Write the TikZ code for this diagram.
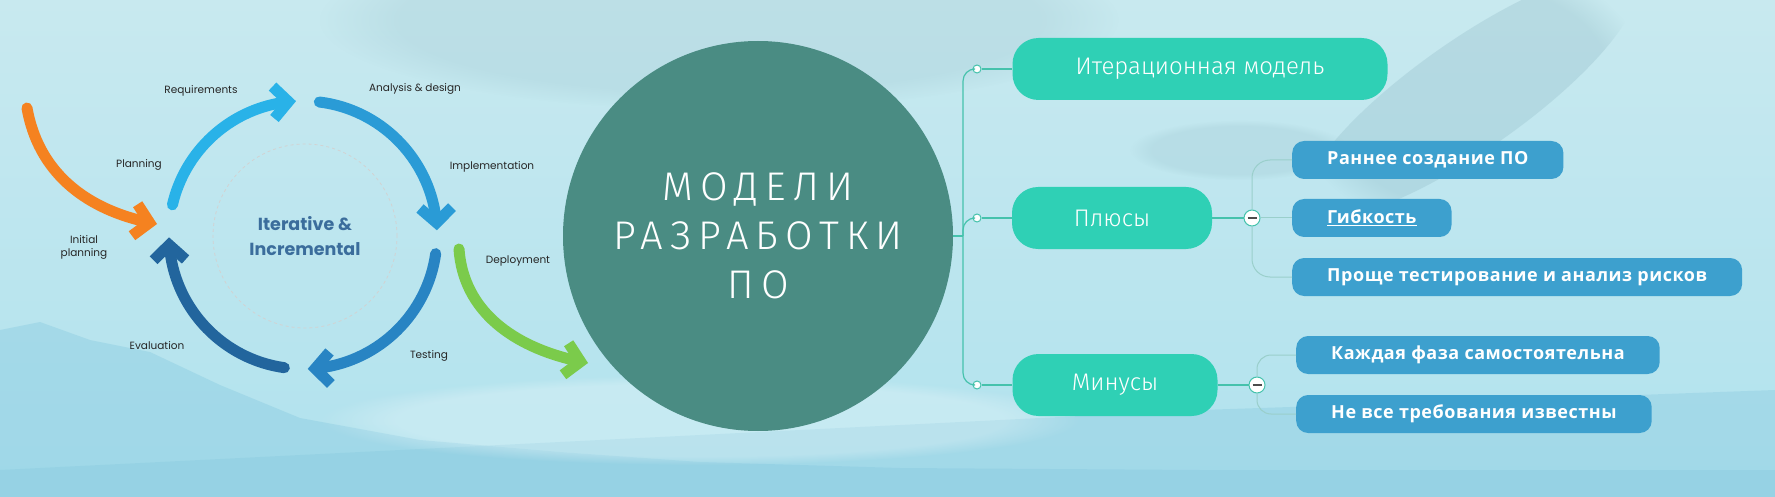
\documentclass[tikz,border=0pt]{standalone}
\usepackage{fontspec}
\setmainfont{Open Sans}
\newfontfamily\cyclefont{Poppins}
\newfontfamily\titlefont{Fira Sans Light}[LetterSpace=18]
\newfontfamily\boxfont{Fira Sans Light}
\newfontfamily\subfont{Open Sans}[LetterSpace=3]
\usetikzlibrary{arrows.meta,bending,positioning,fadings}
\definecolor{reqblue}{HTML}{29B2E8}
\definecolor{anablue}{HTML}{2A9BD6}
\definecolor{tstblue}{HTML}{2884C3}
\definecolor{evablue}{HTML}{22659D}
\definecolor{iniorange}{HTML}{F58220}
\definecolor{depgreen}{HTML}{7BCB4B}
\definecolor{hubtext}{HTML}{3B6D9C}
\definecolor{coreteal}{HTML}{4A8C83}
\definecolor{mapteal}{HTML}{2FD0B5}
\definecolor{mapblue}{HTML}{3DA0CE}
\definecolor{linkteal}{HTML}{45C2AC}
\definecolor{linkgray}{HTML}{9ACFCB}
\definecolor{skytop}{HTML}{C8E9EF}
\definecolor{skymid}{HTML}{DFF7F8}
\definecolor{skylow}{HTML}{B0E2EE}
\definecolor{hillblue}{HTML}{86C9DF}
\definecolor{hillgray}{HTML}{8FB9C4}
\tikzset{
  ring/.style={line width=11pt, line cap=round, -{Straight Barb[length=15pt,width=32pt]}},
  lab/.style={font=\cyclefont\fontsize{10.5}{13}\selectfont, align=center, text=black!85},
  topbox/.style={fill=mapteal, rounded corners=26pt, minimum height=62pt, text=white,
                 font=\boxfont\fontsize{24}{28}\selectfont},
  subbox/.style={fill=mapblue, rounded corners=12pt, minimum height=38pt, inner xsep=35pt,
                 anchor=west, text=white, font=\subfont\bfseries\fontsize{18}{22}\selectfont},
  trunk/.style={draw=linkteal, line width=1.2pt},
  twig/.style={draw=linkgray, line width=1pt},
  knob/.style={circle, draw=linkteal, fill=white, line width=1pt, minimum size=8pt, inner sep=0pt},
  fold/.style={circle, draw=linkteal, fill=white, line width=1pt, minimum size=16pt, inner sep=0pt,
               path picture={\draw[line width=1.8pt, black!70]
                 ([xshift=-4.5pt]path picture bounding box.center) -- ([xshift=4.5pt]path picture bounding box.center);}},
  haze/.style={path fading=circle with fuzzy edge 20 percent},
}
\begin{document}
\begin{tikzpicture}[x=1pt, y=-1pt]
  \useasboundingbox (0,0) rectangle (1775,497);
  % sky and hills
  \shade[top color=skytop, middle color=skymid, bottom color=skylow] (0,0) rectangle (1775,497);
  \fill[hillgray, opacity=.2, haze] (720,20) ellipse [x radius=400, y radius=90];
  \fill[hillgray, opacity=.3, haze, rotate around={35:(1470,95)}] (1470,95) ellipse [x radius=200, y radius=55];
  \fill[hillgray, opacity=.2, haze] (1240,150) ellipse [x radius=110, y radius=30];
  \fill[hillblue, opacity=.4] (0,330) -- (40,322) -- (90,340) -- (150,352) -- (220,385) -- (300,418)
        -- (420,440) -- (560,452) -- (700,462) -- (900,468) -- (1200,470) -- (1775,470) -- (1775,497) -- (0,497) -- cycle;
  \fill[hillblue, opacity=.35] (0,470) -- (300,455) -- (600,440) -- (900,425) -- (1200,410) -- (1500,400)
        -- (1775,390) -- (1775,497) -- (0,497) -- cycle;
  \fill[white, opacity=.25, haze] (700,420) ellipse [x radius=380, y radius=45];

  % iterative cycle
  \node[circle, draw=gray!35, dashed, line width=0.8pt, minimum size=184pt, text=hubtext, align=center,
        font=\cyclefont\bfseries\fontsize{17.5}{25}\selectfont] (hub) at (305,236) {Iterative \&\\Incremental};
  \coordinate (rc) at (303,235);
  \draw[ring, reqblue] (rc) ++(193:134) arc[start angle=193, end angle=267, radius=134];
  \draw[ring, anablue] (rc) ++(277:134) arc[start angle=277, end angle=358, radius=134];
  \draw[ring, tstblue] (rc) ++(8:134) arc[start angle=8, end angle=88, radius=134];
  \draw[ring, evablue] (rc) ++(98:134) arc[start angle=98, end angle=179, radius=134];
  \coordinate (iniS) at (27,108); \coordinate (iniE) at (157,224);
  \draw[ring, iniorange] (iniS) to[out=-80, in=170] (iniE);
  \coordinate (depS) at (459,249); \coordinate (depE) at (588,363);
  \draw[ring, depgreen] (depS) to[out=-86, in=170] (depE);
  \node[lab] (req) at (201,91) {Requirements};
  \node[lab] (ana) at (415,89) {Analysis \& design};
  \node[lab] (plan) at (139,165) {Planning};
  \node[lab] (impl) at (492,167) {Implementation};
  \node[lab] (ini) at (84,247) {Initial\\planning};
  \node[lab] (dep) at (518,261) {Deployment};
  \node[lab] (eva) at (157,346) {Evaluation};
  \node[lab] (tst) at (429,356) {Testing};

  % mind map
  \node[circle, fill=coreteal, minimum size=390pt, inner sep=0pt, text=white, align=center,
        font=\titlefont\fontsize{40}{49}\selectfont] (core) at (758,236) {МОДЕЛИ\\РАЗРАБОТКИ\\ПО};
  \coordinate (fork) at (963,236);
  \node[topbox, minimum width=375pt] (iter) at (1200,69) {Итерационная модель};
  \node[topbox, minimum width=200pt] (plus) at (1112,218) {Плюсы};
  \node[topbox, minimum width=205pt] (minus) at (1115,385) {Минусы};
  \node[knob] (k1) at (977,69) {};
  \node[knob] (k2) at (977,218) {};
  \node[knob] (k3) at (977,385) {};
  \draw[trunk] (core) -- (fork);
  \draw[trunk, rounded corners=12pt] (fork) |- (k1);
  \draw[trunk, rounded corners=12pt] (fork) |- (k2);
  \draw[trunk, rounded corners=12pt] (fork) |- (k3);
  \draw[trunk] (k1) -- (iter);
  \draw[trunk] (k2) -- (plus);
  \draw[trunk] (k3) -- (minus);

  \node[fold] (pfold) at (1252,218) {};
  \node[fold] (mfold) at (1257,385) {};
  \draw[trunk] (plus) -- (pfold);
  \draw[trunk] (minus) -- (mfold);
  \node[subbox] (early) at (1292,160) {Раннее создание ПО};
  \node[subbox] (flex) at (1292,218) {\underline{Гибкость}};
  \node[subbox] (easy) at (1292,277) {Проще тестирование и анализ рисков};
  \node[subbox] (each) at (1296,355) {Каждая фаза самостоятельна};
  \node[subbox] (notall) at (1296,414) {Не все требования известны};
  \draw[twig, rounded corners=18pt] (pfold) |- (early);
  \draw[twig] (pfold) -- (flex);
  \draw[twig, rounded corners=18pt] (pfold) |- (easy);
  \draw[twig, rounded corners=14pt] (mfold) |- (each);
  \draw[twig, rounded corners=14pt] (mfold) |- (notall);
\end{tikzpicture}
\end{document}
